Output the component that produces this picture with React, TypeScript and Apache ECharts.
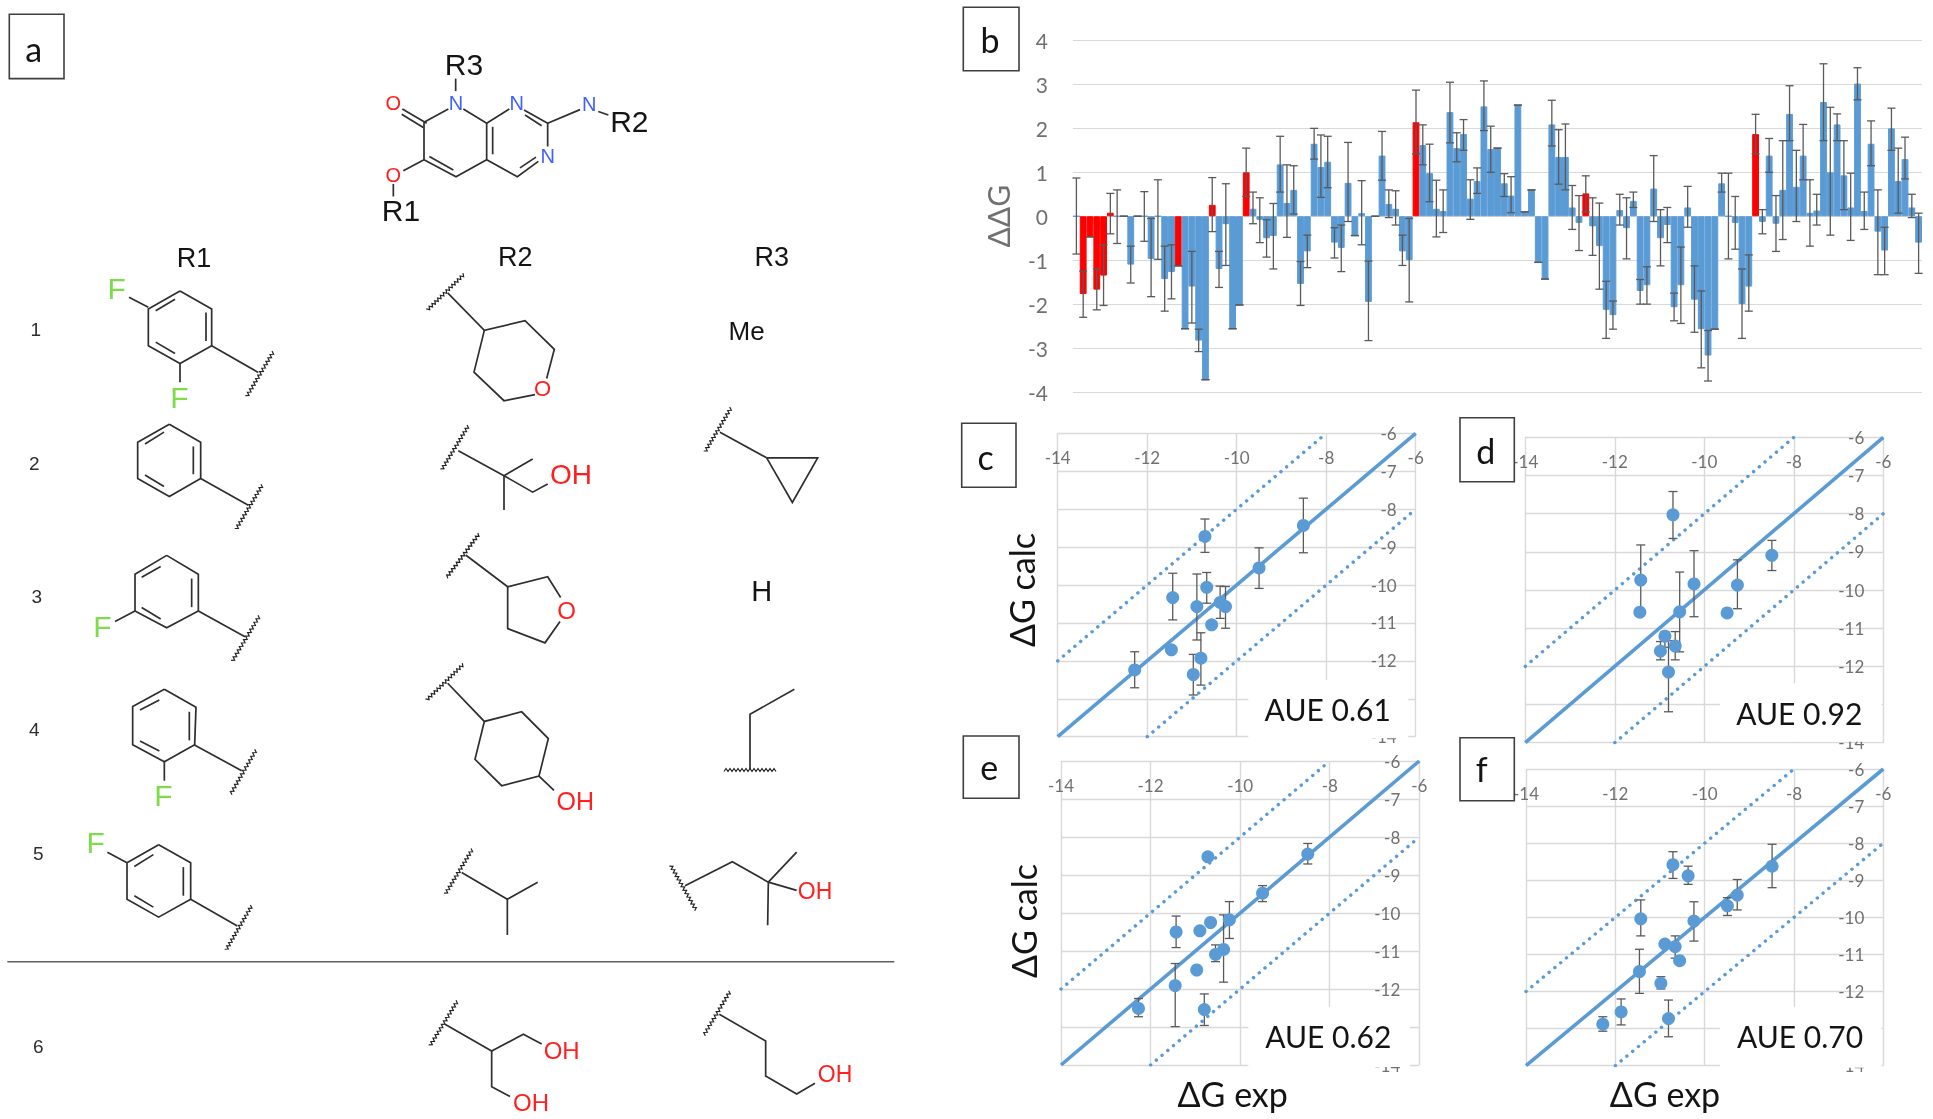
import React, { useEffect, useRef } from "react";
import * as echarts from "echarts";

const BLUE = "#5B9BD5";
const RED = "#FF0000";
const GRID = "#D9D9D9";
const TICK = "#707070";
const ERR = "#5A5A5A";
const INK = "#2E2E2E";
const SANS = "Liberation Sans";
const UI = "Lato";

// ---- panel b ----
const DD_RED = [1, 2, 3, 4, 5, 15, 20, 25, 50, 75, 100];
const DD_VAL = [
  0, -1.77, -0.47, -1.67, -1.35, 0.08, 0, 0, -1.1, 0, 0, -0.97, 0, -1.43, -1.27, -1.13, -2.56, -1.6, -2.83, -3.72,
  0.26, -1.2, -0.18, -2.56, -2.02, 1.0, 0.17, -0.08, -0.5, -0.45, 1.18, 0.3, 0.6, -1.54, -0.8, 1.65, 1.12, 1.24, -0.6, -0.72,
  0.76, -0.44, 0.07, -1.95, 0, 1.38, 0.28, 0.17, -0.8, -1.0, 2.14, 1.62, 0.98, 0.17, 0.12, 2.37, 1.55, 1.87, 0.4, 0.8,
  2.5, 1.53, 1.55, 0.75, 0.47, 2.53, 0.1, 0.6, -1.05, -1.43, 2.09, 1.35, 1.35, 0.2, -0.15, 0.52, -0.23, -0.68, -2.13, -2.25,
  0.14, -0.27, 0.35, -1.7, -1.57, 0.63, -0.5, -0.2, -2.07, -1.57, 0.2, -1.9, -2.57, -3.17, -2.57, 0.75, 0, -0.15, -2.0, -1.6,
  1.87, -0.13, 1.38, -0.17, 0.6, 2.33, 0.67, 1.38, 0.08, 0.13, 2.6, 1.0, 2.09, 0.93, 0.2, 3.02, 0.12, 1.65, -0.35, -0.78,
  2.0, 0.8, 1.3, 0.2, -0.6,
];
const DD_HI = [
  0.87, -1.25, -0.47, -1.2, -0.65, 0.52, 0.6, 0, -0.68, 0, 0.56, -0.05, 0.83, -0.68, -0.65, -1.13, -2.56, -0.8, -2.57, -3.72,
  0.88, -0.8, 0.74, -2.56, -2.02, 1.55, 0.55, 0.42, -0.08, 0.29, 1.82, 1.17, 1.15, -1.03, -0.43, 2.0, 1.85, 1.82, -0.26, -0.2,
  1.68, -0.44, 0.81, -1.02, 0, 1.93, 0.6, 0.58, -0.43, -0.05, 2.87, 2.08, 1.64, 0.82, 0.6, 3.05, 1.9, 2.2, 0.83, 1.1,
  3.08, 2.05, 1.55, 0.97, 0.9, 2.53, 0.1, 0.6, -1.05, -1.43, 2.64, 1.97, 2.1, 0.7, 0.47, 0.92, 0.42, 0.3, -1.48, -1.93,
  0.5, 0.42, 0.55, -1.44, -1.15, 1.38, 0.15, 0.2, -1.75, -0.7, 0.68, -1.13, -1.7, -2.6, -2.57, 0.98, 0.98, 0.45, -1.2, -0.88,
  2.32, 0.15, 1.77, 0.47, 1.72, 2.97, 1.5, 2.09, 0.83, 0.5, 3.47, 2.48, 2.33, 1.72, 0.98, 3.38, 0.55, 2.17, 0.6, -0.25,
  2.46, 1.55, 1.8, 0.5, 0.07,
];
const DD_LO = [
  -0.86, -2.3, -0.47, -2.13, -2.03, -0.4, -0.62, 0, -1.52, 0, -0.57, -1.83, -0.98, -2.16, -1.88, -1.13, -2.56, -2.43, -3.08, -3.72,
  -0.35, -1.62, -1.12, -2.56, -2.02, 0.45, -0.17, -0.6, -0.93, -1.2, 0.55, -0.48, 0.05, -2.03, -1.17, 1.3, 0.43, 0.65, -0.95, -1.26,
  -0.12, -0.44, -0.65, -2.83, 0, 0.82, -0.03, -0.2, -1.12, -1.95, 1.42, 1.17, 0.33, -0.47, -0.37, 1.67, 1.24, 1.5, -0.07, 0.52,
  1.95, 1.0, 1.55, 0.45, 0.08, 2.53, 0.1, 0.6, -1.05, -1.43, 1.6, 0.73, 0.6, -0.3, -0.78, 0.1, -0.89, -1.66, -2.78, -2.57,
  -0.2, -0.97, 0.2, -2.0, -2.0, -0.12, -1.13, -0.6, -2.38, -2.44, -0.25, -2.64, -3.45, -3.75, -2.57, 0.55, -0.97, -0.75, -2.78, -2.16,
  1.42, -0.4, 1.0, -0.8, -0.53, 1.72, -0.12, 0.83, -0.68, -0.2, 1.72, -0.43, 1.72, 0.15, -0.55, 2.65, -0.3, 1.15, -1.33, -1.33,
  1.5, 0.07, 0.85, -0.03, -1.3,
];
const DD_TICKS = [-4, -3, -2, -1, 0, 1, 2, 3, 4];

// ---- panels c-f: calculated against experimental ----
const C_EXP = [-12.28, -11.46, -11.43, -10.97, -10.89, -10.8, -10.71, -10.67, -10.56, -10.37, -10.25, -9.5, -8.51];
const C_CALC = [-12.24, -11.71, -10.33, -12.36, -10.57, -11.93, -8.72, -10.06, -11.05, -10.46, -10.57, -9.55, -8.43];
const C_HI = [-11.76, -11.71, -9.69, -11.83, -9.71, -11.26, -8.26, -9.67, -11.05, -10.03, -10.04, -9.02, -7.71];
const C_LO = [-12.71, -11.71, -10.92, -12.9, -11.45, -12.64, -9.14, -10.48, -11.05, -10.88, -11.14, -10.09, -9.15];

const D_EXP = [-11.44, -11.42, -10.98, -10.88, -10.8, -10.7, -10.65, -10.55, -10.23, -9.49, -9.26, -8.49];
const D_CALC = [-10.58, -9.74, -11.6, -11.21, -12.15, -8.03, -11.47, -10.57, -9.84, -10.6, -9.87, -9.09];
const D_HI = [-10.58, -8.82, -11.35, -11.09, -11.33, -7.42, -11.09, -9.53, -8.97, -10.6, -9.21, -8.7];
const D_LO = [-10.58, -10.58, -11.83, -11.5, -13.19, -8.65, -11.83, -11.62, -10.7, -10.6, -10.49, -9.49];

const E_EXP = [-12.27, -11.45, -11.43, -10.97, -10.9, -10.8, -10.72, -10.66, -10.55, -10.37, -10.24, -9.5, -8.49];
const E_CALC = [-12.51, -11.91, -10.5, -11.5, -10.47, -12.54, -8.52, -10.25, -11.09, -10.96, -10.18, -9.48, -8.45];
const E_HI = [-12.25, -11.33, -10.08, -11.5, -10.47, -12.13, -8.52, -10.25, -10.84, -10.05, -9.7, -9.28, -8.17];
const E_LO = [-12.73, -12.99, -10.91, -11.5, -10.47, -12.96, -8.52, -10.25, -11.28, -11.82, -10.67, -9.7, -8.71];

const F_EXP = [-12.28, -11.87, -11.46, -11.43, -10.98, -10.89, -10.81, -10.71, -10.66, -10.56, -10.37, -10.24, -9.49, -9.27, -8.49];
const F_CALC = [-12.88, -12.55, -11.46, -10.04, -11.78, -10.72, -12.73, -8.58, -10.79, -11.17, -8.88, -10.1, -9.69, -9.4, -8.62];
const F_HI = [-12.68, -12.2, -10.86, -9.53, -11.6, -10.72, -12.23, -8.23, -10.5, -11.17, -8.62, -9.58, -9.47, -8.98, -8.03];
const F_LO = [-13.07, -12.9, -12.05, -10.5, -11.93, -10.72, -13.22, -8.95, -11.1, -11.17, -9.11, -10.64, -9.95, -9.8, -9.2];

const LINE_MID = [[-14, -14], [-6, -6]];
const LINE_UP = [[-14, -12], [-8, -6]];
const LINE_DOWN = [[-12, -14], [-6, -8]];

const AUE_LABELS = ["AUE 0.61", "AUE 0.92", "AUE 0.62", "AUE 0.70"];

// ---- layout of the plots (pixels on the page) ----
const PLOTS = [
  { left: 1057.7, top: 433.3, width: 358, height: 303.4, exp: C_EXP, calc: C_CALC, hi: C_HI, lo: C_LO, aue: [1248.3, 680, 160, 58.3, 1327.7, 709] },
  { left: 1525.3, top: 437.3, width: 358, height: 305.4, exp: D_EXP, calc: D_CALC, hi: D_HI, lo: D_LO, aue: [1720, 683.3, 161.7, 58.4, 1799.3, 712.7] },
  { left: 1061, top: 761, width: 358.3, height: 304, exp: E_EXP, calc: E_CALC, hi: E_HI, lo: E_LO, aue: [1248.3, 1006.7, 161.7, 60.3, 1328.3, 1035.7] },
  { left: 1526, top: 769, width: 357.3, height: 296.7, exp: F_EXP, calc: F_CALC, hi: F_HI, lo: F_LO, aue: [1720, 1006.7, 161.7, 61, 1800, 1035.7] },
];

type Pt = [number, number];
const A: Pt = [0, 0];
const B: Pt = [400, 0];
const C: Pt = [0, 560];
const D: Pt = [400, 560];
const at = (f: Pt, p: number[]): Pt => [f[0] + p[0] / 3, f[1] + p[1] / 2.8];

const BONDS: [Pt, number[][]][] = [
  // scaffold
  [B, [[72, 342], [145, 305]]],
  [B, [[190, 305], [260, 345], [328, 305]]],
  [B, [[372, 308], [443, 345], [443, 410]]],
  [B, [[415, 452], [352, 495], [260, 447], [168, 495], [72, 447], [72, 342]]],
  [B, [[260, 345], [260, 447]]],
  [B, [[375, 322], [425, 352]]],
  [B, [[278, 355], [278, 432]]],
  [B, [[408, 440], [360, 470]]],
  [B, [[88, 438], [160, 476]]],
  [B, [[7, 305], [80, 345]]],
  [B, [[5, 320], [70, 357]]],
  [B, [[72, 447], [10, 478]]],
  [B, [[443, 345], [540, 307]]],
  [B, [[595, 312], [625, 322]]],
  [A, [[1367, 220], [1367, 255]]],
  [A, [[1180, 515], [1180, 550]]],
  // R1, row 1
  [A, [[540, 815], [635, 865], [635, 968], [540, 1018], [445, 968], [445, 865], [540, 815]]],
  [A, [[467, 870], [525, 838]]],
  [A, [[618, 875], [618, 955]]],
  [A, [[467, 958], [525, 990]]],
  [A, [[445, 860], [387, 832]]],
  [A, [[540, 1018], [540, 1070]]],
  [A, [[635, 968], [775, 1043]]],
  // R1, row 2
  [A, [[508, 1188], [602, 1238], [602, 1340], [508, 1390], [413, 1340], [413, 1238], [508, 1188]]],
  [A, [[435, 1243], [492, 1210]]],
  [A, [[580, 1250], [580, 1328]]],
  [A, [[435, 1330], [492, 1362]]],
  [A, [[602, 1340], [745, 1415]]],
  // R1, row 3
  [C, [[500, -13], [595, 40], [595, 143], [500, 190], [405, 143], [405, 40], [500, -13]]],
  [C, [[425, 48], [482, 18]]],
  [C, [[575, 52], [575, 132]]],
  [C, [[425, 133], [482, 165]]],
  [C, [[405, 143], [345, 172]]],
  [C, [[595, 143], [735, 215]]],
  // R1, row 4
  [C, [[493, 362], [588, 412], [584, 517], [493, 565], [398, 517], [398, 410], [493, 362]]],
  [C, [[420, 420], [478, 392]]],
  [C, [[568, 425], [568, 505]]],
  [C, [[420, 507], [478, 535]]],
  [C, [[493, 565], [493, 618]]],
  [C, [[582, 517], [725, 590]]],
  // R1, row 5
  [C, [[476, 797], [572, 848], [572, 950], [476, 1000], [381, 950], [381, 848], [476, 797]]],
  [C, [[403, 858], [460, 825]]],
  [C, [[550, 860], [550, 940]]],
  [C, [[403, 940], [460, 972]]],
  [C, [[381, 848], [322, 818]]],
  [C, [[572, 950], [712, 1025]]],
  // R2, rows 1-2
  [B, [[143, 820], [253, 925], [375, 898], [463, 978], [440, 1060]]],
  [B, [[405, 1105], [312, 1122], [222, 1042], [253, 925]]],
  [B, [[175, 1262], [312, 1332], [398, 1378], [443, 1355]]],
  [B, [[312, 1332], [398, 1285]]],
  [B, [[312, 1332], [312, 1428]]],
  // R2, row 3
  [D, [[197, -14], [323, 75], [443, 47], [482, 105]]],
  [D, [[480, 172], [435, 232], [323, 192], [323, 75]]],
  // R2, row 4
  [D, [[143, 345], [253, 452], [365, 425], [445, 500], [417, 605], [305, 632], [225, 558], [253, 452]]],
  [D, [[417, 605], [462, 645]]],
  // R2, row 5
  [D, [[185, 875], [322, 950], [413, 902]]],
  [D, [[322, 950], [322, 1050]]],
  // R2, row 6
  [D, [[135, 1300], [275, 1375], [370, 1328], [425, 1355]]],
  [D, [[275, 1375], [275, 1475], [330, 1502]]],
  // R3, row 2
  [B, [[960, 1210], [1100, 1282]]],
  [B, [[1100, 1282], [1253, 1282], [1177, 1407], [1100, 1282]]],
  // R3, row 4
  [D, [[1183, 362], [1050, 432], [1050, 585]]],
  // R3, row 5
  [D, [[855, 912], [997, 845], [1105, 902], [1190, 818]]],
  [D, [[1105, 902], [1190, 925]]],
  [D, [[1105, 902], [1103, 1023]]],
  // R3, row 6
  [D, [[958, 1272], [1097, 1347], [1097, 1445], [1190, 1495], [1245, 1465]]],
];

const CUTS: [Pt, number[], number[]][] = [
  [A, [820, 985], [740, 1110]],
  [A, [787, 1358], [708, 1482]],
  [C, [778, 157], [697, 283]],
  [C, [768, 532], [692, 655]],
  [C, [755, 968], [678, 1092]],
  [B, [192, 768], [82, 868]],
  [B, [205, 1192], [125, 1315]],
  [B, [237, 1495], [140, 1617]],
  [D, [190, 292], [80, 392]],
  [D, [217, 810], [136, 935]],
  [D, [172, 1235], [90, 1360]],
  [B, [993, 1142], [915, 1265]],
  [D, [972, 588], [1128, 588]],
  [D, [812, 855], [888, 980]],
  [D, [990, 1208], [912, 1330]],
];

const N_BLUE = "#3F5FFF";
const O_RED = "#FF1F1F";
const F_GREEN = "#7EDB4B";
const BLACK = "#141414";

const ATOMS: [Pt, number, number, string, number, string][] = [
  [A, 1180, 287, "O", 20, O_RED],
  [A, 1180, 490, "O", 20, O_RED],
  [B, 168, 287, "N", 20, N_BLUE],
  [B, 350, 287, "N", 20, N_BLUE],
  [B, 443, 437, "N", 20, N_BLUE],
  [B, 568, 290, "N", 20, N_BLUE],
  [B, 192, 180, "R3", 30, BLACK],
  [B, 688, 340, "R2", 30, BLACK],
  [A, 1203, 590, "R1", 30, BLACK],
  [A, 582, 722, "R1", 27, BLACK],
  [B, 346, 720, "R2", 27, BLACK],
  [B, 1115, 720, "R3", 27, BLACK],
  [A, 107, 922, "1", 19, INK],
  [A, 103, 1297, "2", 19, INK],
  [C, 110, 103, "3", 19, INK],
  [C, 103, 475, "4", 19, INK],
  [C, 115, 822, "5", 19, INK],
  [C, 115, 1362, "6", 19, INK],
  [A, 350, 808, "F", 30, F_GREEN],
  [A, 538, 1112, "F", 30, F_GREEN],
  [C, 307, 185, "F", 30, F_GREEN],
  [C, 490, 658, "F", 30, F_GREEN],
  [C, 287, 790, "F", 30, F_GREEN],
  [B, 428, 1088, "O", 22, O_RED],
  [B, 513, 1328, "OH", 28, O_RED],
  [D, 500, 142, "O", 24, O_RED],
  [D, 526, 675, "OH", 25, O_RED],
  [D, 485, 1372, "OH", 24, O_RED],
  [D, 393, 1520, "OH", 24, O_RED],
  [B, 1040, 928, "Me", 26, BLACK],
  [D, 1085, 88, "H", 29, BLACK],
  [D, 1245, 928, "OH", 23, O_RED],
  [D, 1305, 1440, "OH", 23, O_RED],
];

const BOXES: [number, number, number, number, string, number, number][] = [
  [9.3, 14.3, 54.7, 64.3, "a", 33.7, 48],
  [963.3, 7.3, 55.7, 63.4, "b", 990, 39.3],
  [961.7, 423.3, 54.3, 64, "c", 985.7, 456],
  [1460, 417.7, 54.3, 64, "d", 1485.7, 450.7],
  [963.3, 736, 55.7, 62.3, "e", 989.3, 766],
  [1460, 737.7, 54.3, 63, "f", 1481.7, 768.3],
];

const AXIS_TITLES: [number, number, string, number][] = [
  [1021.7, 590, "ΔG calc", Math.PI / 2],
  [1023, 921, "ΔG calc", Math.PI / 2],
  [1232.7, 1093, "ΔG exp", 0],
  [1665, 1093, "ΔG exp", 0],
];

function polyEl(points: Pt[], stroke = INK, lineWidth = 1.7, z = 30) {
  return { type: "polyline", silent: true, z, shape: { points }, style: { stroke, lineWidth, fill: "none" } };
}

function textEl(x: number, y: number, text: string, size: number, fill: string, family = SANS, rotation = 0, z = 31) {
  return {
    type: "text",
    silent: true,
    z,
    x,
    y,
    rotation,
    style: { x: 0, y: 0, text, fontSize: size, fontFamily: family, fill, align: "center", verticalAlign: "middle", textAlign: "center", textVerticalAlign: "middle" },
  };
}

function zigzag(a: Pt, b: Pt): Pt[] {
  const dx = b[0] - a[0];
  const dy = b[1] - a[1];
  const len = Math.hypot(dx, dy);
  const n = Math.round(len / 2);
  const pts: Pt[] = [];
  for (let i = 0; i <= n; i++) {
    const t = i / n;
    const s = i % 2 === 0 ? 1.5 : -1.5;
    pts.push([a[0] + dx * t - (dy / len) * s, a[1] + dy * t + (dx / len) * s]);
  }
  return pts;
}

function errorSeries(gridIdx: number, rows: number[][], capHalf: number) {
  return {
    type: "custom",
    xAxisIndex: gridIdx,
    yAxisIndex: gridIdx,
    z: 4,
    silent: true,
    data: rows,
    encode: { x: 0, y: [1, 2] },
    renderItem: (_p: any, api: any) => {
      const x = api.value(0);
      const lo = api.coord([x, api.value(1)]);
      const hi = api.coord([x, api.value(2)]);
      const style = { stroke: ERR, lineWidth: 1.3, fill: "none" };
      return {
        type: "group",
        children: [
          { type: "line", shape: { x1: lo[0], y1: lo[1], x2: hi[0], y2: hi[1] }, style },
          { type: "line", shape: { x1: lo[0] - capHalf, y1: lo[1], x2: lo[0] + capHalf, y2: lo[1] }, style },
          { type: "line", shape: { x1: hi[0] - capHalf, y1: hi[1], x2: hi[0] + capHalf, y2: hi[1] }, style },
        ],
      };
    },
  };
}

function buildOption() {
  const grid: any[] = [{ left: 1073, top: 40.5, width: 849, height: 351.5 }];
  const xAxis: any[] = [
    {
      type: "category",
      gridIndex: 0,
      data: DD_VAL.map((_, i) => String(i + 1)),
      axisLabel: { show: false },
      axisTick: { show: false },
      axisLine: { show: true, onZero: true, lineStyle: { color: GRID } },
    },
  ];
  const yAxis: any[] = [
    {
      type: "value",
      gridIndex: 0,
      min: DD_TICKS[0],
      max: DD_TICKS[DD_TICKS.length - 1],
      interval: 1,
      name: "ΔΔG",
      nameLocation: "middle",
      nameGap: 60,
      nameTextStyle: { color: TICK, fontSize: 30, fontFamily: UI },
      axisLine: { show: false },
      axisTick: { show: false },
      axisLabel: { color: TICK, fontSize: 21, fontFamily: UI, margin: 25 },
      splitLine: { lineStyle: { color: GRID, width: 1 } },
    },
  ];
  const series: any[] = [
    {
      type: "bar",
      xAxisIndex: 0,
      yAxisIndex: 0,
      barWidth: "100%",
      barGap: "0%",
      silent: true,
      data: DD_VAL.map((v, i) => ({
        value: v,
        itemStyle: { color: DD_RED.includes(i) ? RED : BLUE, borderColor: DD_RED.includes(i) ? RED : BLUE, borderWidth: 1 },
      })),
    },
    errorSeries(0, DD_VAL.map((_, i) => [i, DD_LO[i], DD_HI[i]]), 4),
  ];

  PLOTS.forEach((p, k) => {
    const g = k + 1;
    grid.push({ left: p.left, top: p.top, width: p.width, height: p.height });
    xAxis.push({
      type: "value",
      gridIndex: g,
      position: "top",
      min: -14,
      max: -6,
      interval: 2,
      axisLine: { show: false },
      axisTick: { show: false },
      axisLabel: { inside: true, margin: 16, color: TICK, fontSize: 17, fontFamily: UI },
      splitLine: { lineStyle: { color: GRID, width: 1.4 } },
    });
    yAxis.push({
      type: "value",
      gridIndex: g,
      position: "right",
      min: -14,
      max: -6,
      interval: 1,
      axisLine: { show: false },
      axisTick: { show: false },
      // the AUE box hides the -13 label in the reference
      axisLabel: {
        inside: true,
        margin: 19,
        color: TICK,
        fontSize: 17,
        fontFamily: UI,
        formatter: (v: number) => (v === -13 ? "" : String(v)),
      },
      splitLine: { lineStyle: { color: GRID, width: 1.4 } },
    });
    const ln = (data: number[][], dotted: boolean) => ({
      type: "line",
      xAxisIndex: g,
      yAxisIndex: g,
      silent: true,
      z: 3,
      symbol: "none",
      data,
      lineStyle: dotted ? { color: BLUE, width: 3.4, type: [0.1, 7.4], cap: "round" } : { color: BLUE, width: 3.6 },
    });
    series.push(ln(LINE_MID, false), ln(LINE_UP, true), ln(LINE_DOWN, true));
    series.push(errorSeries(g, p.exp.map((x, i) => [x, p.lo[i], p.hi[i]]), 4.5));
    series.push({
      type: "scatter",
      xAxisIndex: g,
      yAxisIndex: g,
      silent: true,
      z: 5,
      symbol: "circle",
      symbolSize: 13,
      itemStyle: { color: BLUE, opacity: 1 },
      data: p.exp.map((x, i) => [x, p.calc[i]]),
    });
  });

  const elements: any[] = [];
  PLOTS.forEach((p, k) => {
    const [rx, ry, rw, rh, tx, ty] = p.aue;
    elements.push({ type: "rect", silent: true, z: 20, shape: { x: rx, y: ry, width: rw, height: rh }, style: { fill: "#FFFFFF", stroke: "none" } });
    elements.push(textEl(tx, ty, AUE_LABELS[k], 30, BLACK, UI, 0, 21));
  });
  BONDS.forEach(([f, pts]) => elements.push(polyEl(pts.map((q) => at(f, q)))));
  CUTS.forEach(([f, a, b]) => elements.push(polyEl(zigzag(at(f, a), at(f, b)), "#222222", 1.2)));
  elements.push(polyEl([[7.3, 961.8], [894.3, 961.8]], "#5F5F5F", 1.5));
  ATOMS.forEach(([f, x, y, t, s, c]) => {
    const q = at(f, [x, y]);
    elements.push(textEl(q[0], q[1], t, s, c));
  });
  AXIS_TITLES.forEach(([x, y, t, r]) => elements.push(textEl(x, y, t, 34, BLACK, UI, r)));
  BOXES.forEach(([x, y, w, h, t, tx, ty]) => {
    elements.push({ type: "rect", silent: true, z: 40, shape: { x, y, width: w, height: h }, style: { fill: "#FFFFFF", stroke: "#3F3F3F", lineWidth: 1.6 } });
    elements.push(textEl(tx, ty, t, 34, BLACK, UI, 0, 41));
  });

  return {
    animation: false,
    backgroundColor: "#FFFFFF",
    tooltip: { show: false },
    grid,
    xAxis,
    yAxis,
    series,
    graphic: { elements },
  };
}

export default function App() {
  const ref = useRef<HTMLDivElement>(null);
  useEffect(() => {
    document.body.style.margin = "0";
    const chart = echarts.init(ref.current!, undefined, { renderer: "svg" });
    chart.setOption(buildOption() as any);
    return () => chart.dispose();
  }, []);
  return <div ref={ref} style={{ width: 1933, height: 1119, filter: "blur(0.5px)" }} />;
}
